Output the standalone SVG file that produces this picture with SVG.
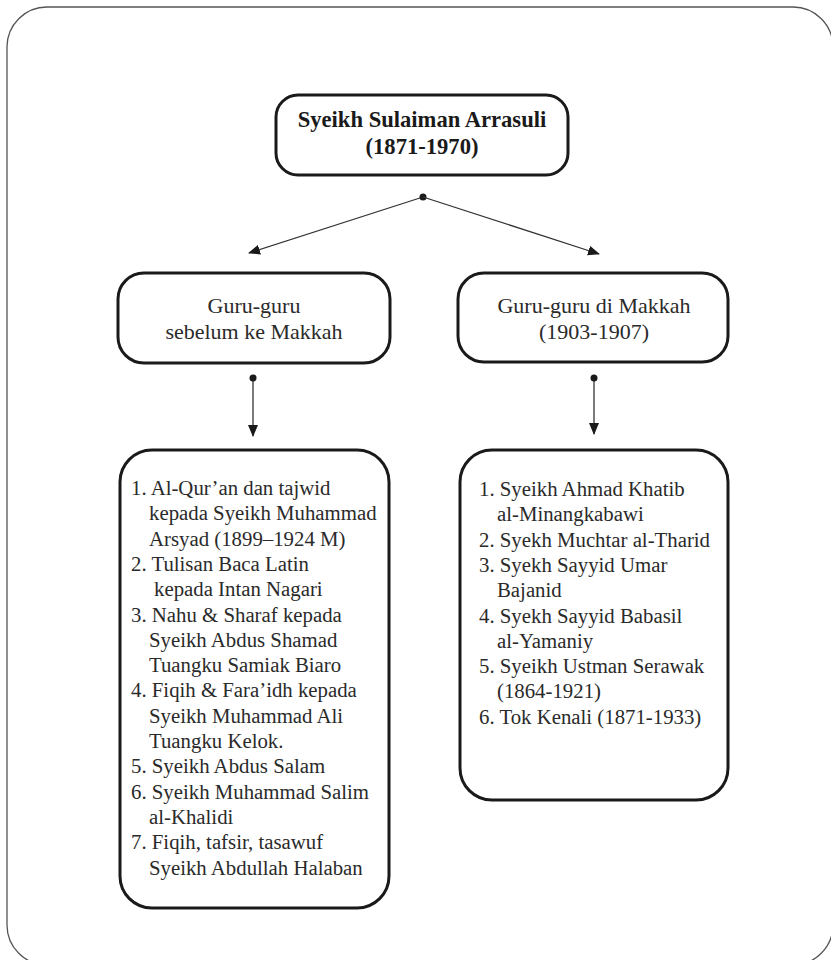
<svg xmlns="http://www.w3.org/2000/svg" width="831" height="960" viewBox="0 0 831 960">
  <defs>
    <marker id="arrow" viewBox="0 0 12 10" refX="11" refY="5" markerWidth="12" markerHeight="10" markerUnits="userSpaceOnUse" orient="auto">
      <path d="M0,0 L12,5 L0,10 z" fill="#1a1a1a"/>
    </marker>
    <marker id="dot" viewBox="0 0 8 8" refX="4" refY="4" markerWidth="8" markerHeight="8" markerUnits="userSpaceOnUse">
      <circle cx="4" cy="4" r="3.5" fill="#1a1a1a"/>
    </marker>
  </defs>
  <style>
    .frame { fill: #ffffff; stroke: #555555; stroke-width: 1.3; }
    .box { fill: #ffffff; stroke: #1a1a1a; stroke-width: 3; }
    .title { font-family: "Liberation Serif", "DejaVu Serif", serif; font-size: 22.6px; font-weight: bold; fill: #1a1a1a; text-anchor: middle; }
    .head { font-family: "Liberation Serif", "DejaVu Serif", serif; font-size: 22px; fill: #2a2a2a; text-anchor: middle; }
    .item { font-family: "Liberation Serif", "DejaVu Serif", serif; font-size: 20.8px; fill: #2a2a2a; }
    .link { stroke: #333333; stroke-width: 1.3; fill: none; }
  </style>

  <rect width="831" height="960" fill="#ffffff"/>
  <rect class="frame" x="7" y="7" width="826" height="958" rx="40" ry="40"/>

  <!-- connectors -->
  <g id="connectors">
    <line class="link" x1="423" y1="197" x2="249" y2="253" marker-start="url(#dot)" marker-end="url(#arrow)"/>
    <line class="link" x1="423" y1="197" x2="599" y2="254" marker-end="url(#arrow)"/>
    <line class="link" x1="253" y1="378" x2="253" y2="436" marker-start="url(#dot)" marker-end="url(#arrow)"/>
    <line class="link" x1="594" y1="378" x2="594" y2="434" marker-start="url(#dot)" marker-end="url(#arrow)"/>
  </g>

  <!-- root -->
  <g id="root">
    <rect class="box" x="276" y="95" width="292" height="80" rx="22" ry="22"/>
    <text class="title" x="422" y="127">Syeikh Sulaiman Arrasuli</text>
    <text class="title" x="422" y="154">(1871-1970)</text>
  </g>

  <!-- teachers before Makkah -->
  <g id="before-makkah">
    <rect class="box" x="118" y="273" width="272" height="90" rx="26" ry="26"/>
    <text class="head" x="254" y="313">Guru-guru</text>
    <text class="head" x="254" y="339">sebelum ke Makkah</text>
  </g>

  <!-- teachers in Makkah -->
  <g id="in-makkah">
    <rect class="box" x="458" y="273" width="270" height="89" rx="26" ry="26"/>
    <text class="head" x="594" y="313">Guru-guru di Makkah</text>
    <text class="head" x="594" y="339">(1903-1907)</text>
  </g>

  <!-- list: before Makkah -->
  <g id="list-before">
    <rect class="box" x="120" y="450" width="269" height="458" rx="32" ry="32"/>
    <text class="item" x="131" y="495">1. Al-Qur’an dan tajwid</text>
    <text class="item" x="149" y="520.3">kepada Syeikh Muhammad</text>
    <text class="item" x="149" y="545.6">Arsyad (1899–1924 M)</text>
    <text class="item" x="131" y="570.9">2. Tulisan Baca Latin</text>
    <text class="item" x="154" y="596.2">kepada Intan Nagari</text>
    <text class="item" x="131" y="621.5">3. Nahu &amp; Sharaf kepada</text>
    <text class="item" x="149" y="646.8">Syeikh Abdus Shamad</text>
    <text class="item" x="149" y="672.1">Tuangku Samiak Biaro</text>
    <text class="item" x="131" y="697.4">4. Fiqih &amp; Fara’idh kepada</text>
    <text class="item" x="149" y="722.7">Syeikh Muhammad Ali</text>
    <text class="item" x="149" y="748">Tuangku Kelok.</text>
    <text class="item" x="131" y="773.3">5. Syeikh Abdus Salam</text>
    <text class="item" x="131" y="798.6">6. Syeikh Muhammad Salim</text>
    <text class="item" x="149" y="823.9">al-Khalidi</text>
    <text class="item" x="131" y="849.2">7. Fiqih, tafsir, tasawuf</text>
    <text class="item" x="149" y="874.5">Syeikh Abdullah Halaban</text>
  </g>

  <!-- list: in Makkah -->
  <g id="list-makkah">
    <rect class="box" x="460" y="450" width="268" height="350" rx="32" ry="32"/>
    <text class="item" x="479" y="496">1. Syeikh Ahmad Khatib</text>
    <text class="item" x="497" y="521.3">al-Minangkabawi</text>
    <text class="item" x="479" y="546.6">2. Syekh Muchtar al-Tharid</text>
    <text class="item" x="479" y="571.9">3. Syekh Sayyid Umar</text>
    <text class="item" x="497" y="597.2">Bajanid</text>
    <text class="item" x="479" y="622.5">4. Syekh Sayyid Babasil</text>
    <text class="item" x="497" y="647.8">al-Yamaniy</text>
    <text class="item" x="479" y="673.1">5. Syeikh Ustman Serawak</text>
    <text class="item" x="497" y="698.4">(1864-1921)</text>
    <text class="item" x="479" y="723.7">6. Tok Kenali (1871-1933)</text>
  </g>
</svg>
